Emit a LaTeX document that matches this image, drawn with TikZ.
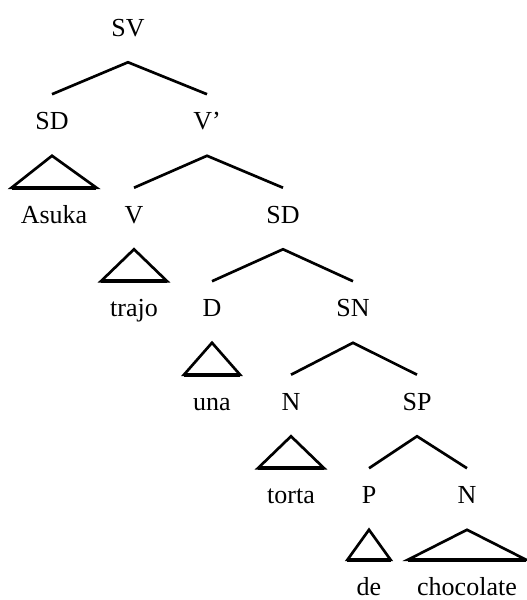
\documentclass[tikz,border=0pt]{standalone}
\usepackage{fontspec}
\setmainfont{Liberation Serif}[Ligatures=Common]
\usepackage{tikz}

\tikzset{
    lab/.style={anchor=base, inner xsep=6.75pt, inner ysep=0pt,
        text height=26.25pt, text depth=19.5pt, font=\fontsize{19.5}{22}\selectfont},
    rama/.style={line width=2pt, line join=miter},
    techo/.style={line width=2pt, line join=miter}
}

\begin{document}
\begin{tikzpicture}[x=0.75pt,y=-0.75pt]
    \useasboundingbox (0,0) rectangle (526,600);
    % Categorie e parole, riga per riga
    \node[lab] (sv)    at (128, 36)    {SV};
    \node[lab] (sd)    at (52, 129.5)  {SD};
    \node[lab] (vbar)  at (207, 129.5) {V'};
    \node[lab] (asuka) at (54, 223)    {Asuka};
    \node[lab] (v)     at (134, 223)   {V};
    \node[lab] (sdb)   at (283, 223)   {SD};
    \node[lab] (trajo) at (134, 316.5) {trajo};
    \node[lab] (d)     at (212, 316.5) {D};
    \node[lab] (sn)    at (353, 316.5) {SN};
    \node[lab] (una)   at (212, 410)   {una};
    \node[lab] (n)     at (291, 410)   {N};
    \node[lab] (sp)    at (417, 410)   {SP};
    \node[lab] (torta) at (291, 503.5) {torta};
    \node[lab] (p)     at (369, 503.5) {P};
    \node[lab] (nb)    at (467, 503.5) {N};
    \node[lab] (de)    at (369, 595)   {de};
    \node[lab] (choc)  at (467, 595)   {chocolate};
    % Rami binari
    \foreach \a/\l/\r in {sv/sd/vbar, vbar/v/sdb, sdb/d/sn, sn/n/sp, sp/p/nb} {
        \draw[rama] (\l.north) -- (\a.south) -- (\r.north);
    }
    % Triangoli sopra le parole
    \foreach \a/\w in {sd/asuka, v/trajo, d/una, n/torta, p/de, nb/choc} {
        \draw[techo] (\a.south) -- (\w.north east) -- (\w.north west) -- cycle;
        \draw[line width=3pt] (\w.north west) -- (\w.north east);
    }
\end{tikzpicture}
\end{document}
